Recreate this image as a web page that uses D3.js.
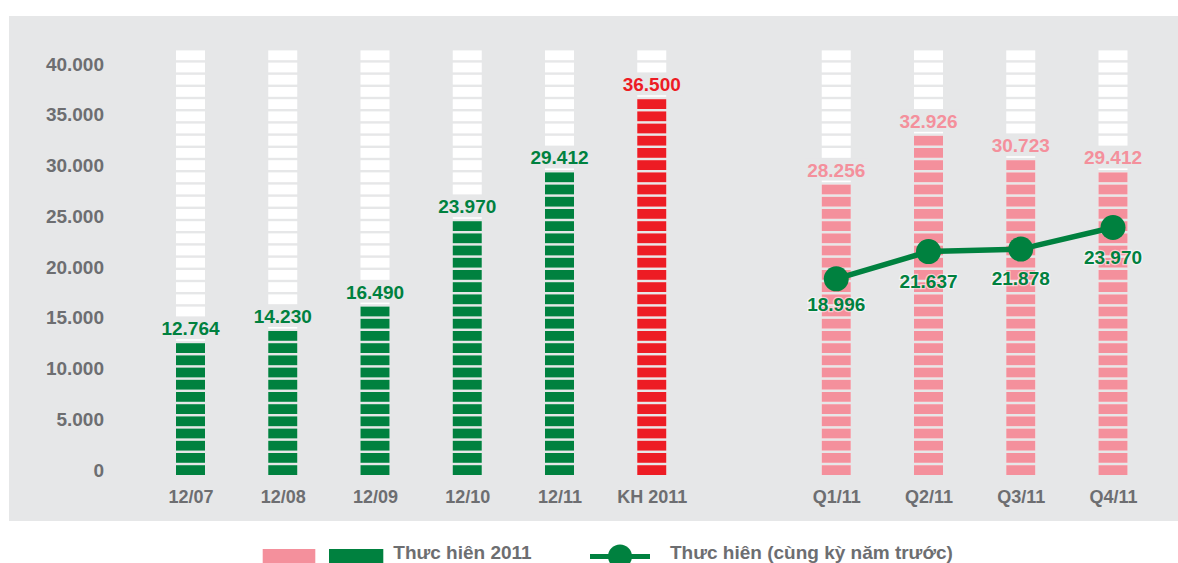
<!DOCTYPE html>
<html>
<head>
<meta charset="utf-8">
<script src="https://cdn.jsdelivr.net/npm/d3@7/dist/d3.min.js"></script>
<style>
  html, body { margin: 0; padding: 0; background: #ffffff; }
  svg { display: block; }
  text { font-family: "Liberation Sans", Arial, Helvetica, sans-serif; font-weight: bold; }
</style>
</head>
<body>
<svg id="chart" width="1178" height="563"></svg>
<script>
// ---- data ----
const annualCategories = ["12/07", "12/08", "12/09", "12/10", "12/11"];
const annualValues = [12764, 14230, 16490, 23970, 29412];
const planCategories = ["KH 2011"];
const planValues = [36500];
const quarterCategories = ["Q1/11", "Q2/11", "Q3/11", "Q4/11"];
const quarterValues = [28256, 32926, 30723, 29412];
const priorYearValues = [18996, 21637, 21878, 23970];
const yTickValues = [0, 5000, 10000, 15000, 20000, 25000, 30000, 35000, 40000];
const legendLabels = ["Thưc hiên 2011", "Thưc hiên (cùng kỳ năm trước)"];

// ---- styles ----
const C = {
  panel: "#e6e7e8",
  green: "#00813f",
  red: "#ed1c24",
  pink: "#f4909c",
  gray: "#6d6e71",
  white: "#ffffff"
};

const svg = d3.select("#chart");
const locale = d3.formatLocale({ decimal: ",", thousands: ".", grouping: [3], currency: ["", ""] });
const fmt = locale.format(",");

// panel background
svg.append("rect").attr("x", 9).attr("y", 16).attr("width", 1169).attr("height", 505).attr("fill", C.panel);

// scales
const GAP = "__gap__";
const x = d3.scalePoint()
  .domain([...annualCategories, ...planCategories, GAP, ...quarterCategories])
  .range([190.5, 1113]);
const y = d3.scaleLinear().domain([0, 40000]).range([475, 62]);
const yAxisScale = d3.scaleLinear().domain([0, 40000]).range([476, 70]);

const barW = 29;
const period = 12.2;
const stripeH = 9.8;
const gap = period - stripeH;
const totalStripes = 35;
const stripesFor = v => Math.round((y(0) - y(v) + gap) / period + 0.2);
const topFor = v => y(0) - stripesFor(v) * period + gap;

// y axis (labels only)
const yAxis = d3.axisLeft(yAxisScale).tickValues(yTickValues).tickSize(0).tickPadding(0).tickFormat(fmt);
const yg = svg.append("g").attr("transform", "translate(104,0)").call(yAxis);
yg.select(".domain").remove();
yg.selectAll("text")
  .attr("fill", C.gray)
  .attr("font-size", 19)
  .attr("font-family", "Liberation Sans, Arial, sans-serif")
  .attr("font-weight", "bold")
  .attr("dy", 0)
  .attr("dominant-baseline", "auto");

// x axis (labels only)
const xAxis = d3.axisBottom(x).tickSize(0).tickPadding(0).tickFormat(d => d === GAP ? "" : d);
const xg = svg.append("g").attr("transform", "translate(0,503)").call(xAxis);
xg.select(".domain").remove();
xg.selectAll("text")
  .attr("fill", C.gray)
  .attr("font-size", 18)
  .attr("font-family", "Liberation Sans, Arial, sans-serif")
  .attr("font-weight", "bold")
  .attr("dy", 0);

// bar data
const bars = [
  ...annualCategories.map((c, i) => ({ cat: c, value: annualValues[i], color: C.green })),
  ...planCategories.map((c, i) => ({ cat: c, value: planValues[i], color: C.red })),
  ...quarterCategories.map((c, i) => ({ cat: c, value: quarterValues[i], color: C.pink }))
];

const barG = svg.append("g");
bars.forEach(b => {
  const g = barG.append("g").attr("transform", `translate(${x(b.cat) - barW / 2},0)`);
  // background white stripes
  g.selectAll("rect.bg").data(d3.range(totalStripes)).join("rect")
    .attr("class", "bg")
    .attr("x", 0).attr("width", barW)
    .attr("y", k => y(0) - (k + 1) * period + gap)
    .attr("height", stripeH)
    .attr("fill", C.white);
  // coloured stripes
  g.selectAll("rect.fg").data(d3.range(stripesFor(b.value))).join("rect")
    .attr("class", "fg")
    .attr("x", 0).attr("width", barW)
    .attr("y", k => y(0) - (k + 1) * period + gap)
    .attr("height", stripeH)
    .attr("fill", b.color);
});

// bar value labels with panel-coloured background
const labelG = svg.append("g");
bars.forEach(b => {
  const bx = x(b.cat);
  const base = topFor(b.value) - 8;
  const t = labelG.append("text")
    .attr("x", bx).attr("y", base)
    .attr("text-anchor", "middle")
    .attr("font-size", 19)
    .attr("fill", b.color)
    .text(fmt(b.value));
  const w = t.node().getComputedTextLength();
  labelG.insert("rect", () => t.node())
    .attr("x", bx - w / 2 - 3).attr("y", base - 18)
    .attr("width", w + 6).attr("height", 22)
    .attr("fill", C.panel);
});

// line series (prior year)
const linePts = quarterCategories.map((c, i) => ({ cat: c, value: priorYearValues[i] }));
const line = d3.line().x(d => x(d.cat)).y(d => y(d.value));
svg.append("path").datum(linePts)
  .attr("d", line)
  .attr("fill", "none")
  .attr("stroke", C.green)
  .attr("stroke-width", 5.5);
svg.append("g").selectAll("circle").data(linePts).join("circle")
  .attr("cx", d => x(d.cat)).attr("cy", d => y(d.value))
  .attr("r", 12.5).attr("fill", C.green);
svg.append("g").selectAll("text").data(linePts).join("text")
  .attr("x", d => x(d.cat)).attr("y", (d, i) => y(d.value) + (i === 0 ? 32 : 36))
  .attr("text-anchor", "middle")
  .attr("font-size", 19)
  .attr("fill", C.green)
  .attr("stroke", "rgba(255,255,255,0.55)")
  .attr("stroke-width", 2.5)
  .attr("paint-order", "stroke")
  .text(d => fmt(d.value));

// legend
const lg = svg.append("g");
lg.append("rect").attr("x", 262.7).attr("y", 549).attr("width", 52.6).attr("height", 20).attr("fill", C.pink);
lg.append("rect").attr("x", 329).attr("y", 549).attr("width", 54.3).attr("height", 20).attr("fill", C.green);
lg.append("text").attr("x", 393.3).attr("y", 558.5).attr("font-size", 19).attr("fill", C.gray).text(legendLabels[0]);
lg.append("line").attr("x1", 590).attr("x2", 650).attr("y1", 556.5).attr("y2", 556.5)
  .attr("stroke", C.green).attr("stroke-width", 5);
lg.append("circle").attr("cx", 620).attr("cy", 556.5).attr("r", 12).attr("fill", C.green);
lg.append("text").attr("x", 670).attr("y", 558.5).attr("font-size", 19).attr("fill", C.gray).text(legendLabels[1]);
</script>
</body>
</html>
